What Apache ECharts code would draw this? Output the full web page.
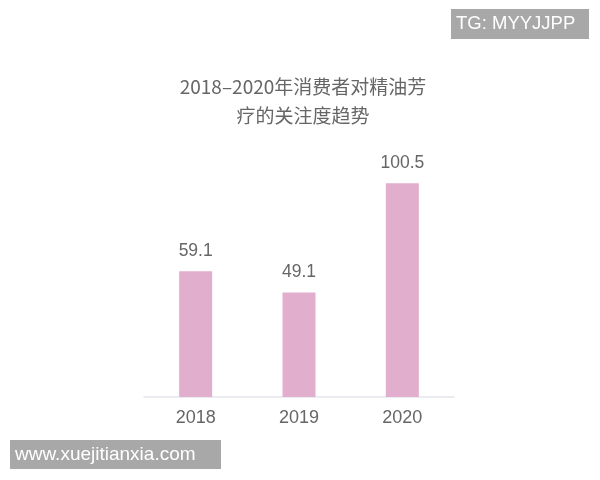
<!DOCTYPE html>
<html>
<head>
<meta charset="utf-8">
<script src="https://cdn.jsdelivr.net/npm/echarts@6/dist/echarts.min.js"></script>
<style>
html,body{margin:0;padding:0;background:#fff;}
#main{width:600px;height:480px;}
</style>
</head>
<body>
<div id="main"></div>
<script>
var categories = ['2018', '2019', '2020'];
var values = [59.1, 49.1, 100.5];
var titleText = '2018\u20132020年消费者对精油芳\n疗的关注度趋势';

var chart = echarts.init(document.getElementById('main'), null, {renderer: 'canvas'});
chart.setOption({
  backgroundColor: '#ffffff',
  animation: false,
  title: {
    text: titleText,
    left: 298,
    top: 67,
    textAlign: 'center',
    textStyle: {
      color: '#666666',
      fontSize: 19,
      fontWeight: 'normal',
      lineHeight: 29,
      fontFamily: 'Noto Sans CJK SC, sans-serif'
    }
  },
  grid: {left: 144, right: 146, top: 163, bottom: 83, containLabel: false},
  xAxis: {
    type: 'category',
    data: categories,
    axisLine: {show: true, lineStyle: {color: '#e4e6ee', width: 1.5}},
    axisTick: {show: false},
    axisLabel: {color: '#666666', fontSize: 18, margin: 12, fontFamily: 'Liberation Sans, Arial, sans-serif'}
  },
  yAxis: {
    type: 'value',
    min: 0,
    max: 110,
    show: false,
    splitLine: {show: false}
  },
  series: [{
    type: 'bar',
    data: values,
    barWidth: 33,
    itemStyle: {color: '#e2aecd'},
    label: {
      show: true,
      position: 'top',
      distance: 11,
      color: '#666666',
      fontSize: 17.5,
      fontFamily: 'Liberation Sans, Arial, sans-serif'
    }
  }],
  graphic: [
    {
      type: 'group', left: 451, top: 9,
      children: [
        {type: 'rect', shape: {x: 0, y: 0, width: 138, height: 30}, style: {fill: '#a8a8a8'}},
        {type: 'text', x: 5, y: 15, style: {text: 'TG: MYYJJPP', fill: '#ffffff', font: '18.5px Liberation Sans, Arial, sans-serif', verticalAlign: 'middle'}}
      ]
    },
    {
      type: 'group', left: 10, top: 440,
      children: [
        {type: 'rect', shape: {x: 0, y: 0, width: 211, height: 29}, style: {fill: '#a8a8a8'}},
        {type: 'text', x: 5, y: 15, style: {text: 'www.xuejitianxia.com', fill: '#ffffff', font: '19px Liberation Sans, Arial, sans-serif', verticalAlign: 'middle'}}
      ]
    }
  ]
});
</script>
</body>
</html>
